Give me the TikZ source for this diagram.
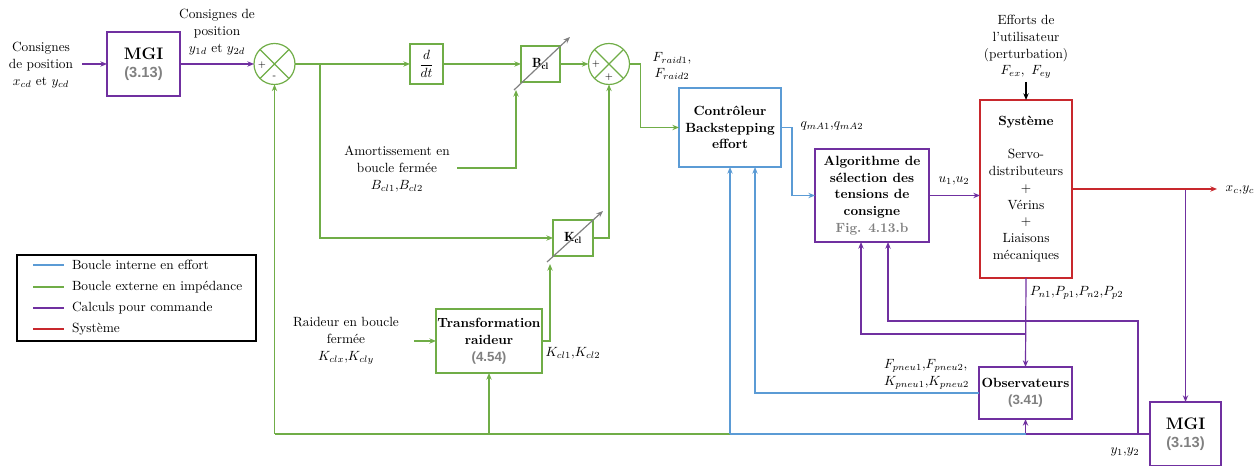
\documentclass[tikz,border=0pt]{standalone}
\usepackage{fontspec}
\newfontfamily\arialf{Liberation Sans}
\usetikzlibrary{arrows.meta}
\definecolor{cgreen}{RGB}{112,173,71}
\definecolor{cblue}{RGB}{91,155,213}
\definecolor{cpurple}{RGB}{112,48,160}
\definecolor{cred}{RGB}{200,40,45}
\definecolor{cgray}{RGB}{128,128,128}
\def\upx{0.75pt}
\newcommand{\grn}[1]{{\arialf\bfseries\color{cgray}#1}}
\newcommand{\mgitxt}{{\fontsize{12.5}{14}\selectfont\textbf{MGI}}\\[1pt]{\fontsize{11}{13}\selectfont\grn{(3.13)}}}
\begin{document}
\begin{tikzpicture}[x=0.75pt,y=-0.75pt,
  font=\fontsize{10}{12.6}\selectfont,
  every node/.style={inner sep=0pt,outer sep=0pt},
  bx/.style 2 args={minimum width=#1*\upx,minimum height=#2*\upx},
  blk/.style={draw,line width=1pt,align=center},
  sumc/.style={circle,draw=cgreen,line width=0.9pt,minimum size=41*\upx},
  lin/.style={line width=0.9pt},
  arr/.style={line width=0.9pt,-{Stealth[length=5pt,width=4pt]}},
  sgn/.style={font=\fontsize{7}{8}\selectfont},
  lbl/.style={align=center},
  gar/.style={draw=cgray,line width=0.9pt,-{Stealth[length=5pt,width=4pt]}}]
\useasboundingbox (0,0) rectangle (1258,466);

% ---- blocks ----
\node[blk,draw=cpurple,bx={73}{64}] (mgi1) at (143.5,64) {\mgitxt};
\node[sumc] (s1) at (274.5,64) {};
\node[blk,draw=cgreen,bx={33}{40}] (ddt) at (426.5,64) {$\displaystyle\frac{d}{dt}$};
\node[blk,draw=cgreen,bx={39}{36}] (bcl) at (540.5,64) {$\mathbf{B_{cl}}$};
\node[sumc] (s2) at (609,64) {};
\node[blk,draw=cgreen,bx={40}{36}] (kcl) at (573,238) {$\mathbf{K_{cl}}$};
\node[blk,draw=cgreen,bx={106}{64}] (trans) at (489,341) {\textbf{Transformation}\\\textbf{raideur}\\\grn{(4.54)}};
\node[blk,draw=cblue,bx={102}{79}] (ctrl) at (730,127.5) {\textbf{Contrôleur}\\\textbf{Backstepping}\\\textbf{effort}};
\node[blk,draw=cpurple,bx={114}{93}] (algo) at (872,195.5) {\textbf{Algorithme de}\\\textbf{sélection des}\\\textbf{tensions de}\\\textbf{consigne}\\{\bfseries\color{cgray}Fig. 4.13.b}};
\node[blk,draw=cred,bx={92}{178}] (sys) at (1026,189) {\textbf{Système}\\[12.6pt]Servo-\\distributeurs\\$+$\\Vérins\\$+$\\Liaisons\\mécaniques};
\node[blk,draw=cpurple,bx={93}{52}] (obs) at (1025.5,393) {\textbf{Observateurs}\\\grn{(3.41)}};
\node[blk,draw=cpurple,bx={71}{64}] (mgi2) at (1185.5,434) {\mgitxt};

% sum crosses and signs
\draw[cgreen,lin] (s1.north west)--(s1.south east) (s1.north east)--(s1.south west);
\draw[cgreen,lin] (s2.north west)--(s2.south east) (s2.north east)--(s2.south west);
\node[sgn] (s1p) at (262,65) {+};
\node[sgn] (s1m) at (274.5,77) {-};
\node[sgn] (s2p) at (596,64) {+};
\node[sgn] (s2q) at (609,77) {+};

% variable gain arrows
\coordinate (bd1) at (514,90); \coordinate (bd2) at (570,37);
\draw[gar] (bd1)--(bd2);
\coordinate (kd1) at (547,262); \coordinate (kd2) at (603,211);
\draw[gar] (kd1)--(kd2);

% ---- labels ----
\node[lbl] (lin) at (41,65) {Consignes\\de position\\$x_{cd}$ et $y_{cd}$};
\node[lbl] (lcons) at (217,32) {Consignes de\\position\\$y_{1d}$ et $y_{2d}$};
\node[lbl] (lamort) at (397,169) {Amortissement en\\boucle fermée\\$B_{cl1}{,}B_{cl2}$};
\node[lbl] (lraid) at (346,341) {Raideur en boucle\\fermée\\$K_{clx}{,}K_{cly}$};
\node (lkcl) at (573,353) {$K_{cl1}{,}K_{cl2}$};
\node[lbl] (lfraid) at (672,66) {$F_{raid1}$,\\$F_{raid2}$};
\node (lq) at (832,126) {$q_{mA1}{,}q_{mA2}$};
\node (lu) at (954,181) {$u_1{,}u_2$};
\node[lbl] (leff) at (1026,47) {Efforts de\\l'utilisateur\\(perturbation)\\$F_{ex},\ F_{ey}$};
\node (lxc) at (1240,190) {$x_c{,}y_c$};
\node[anchor=west] (lP) at (1030,293) {$P_{n1}{,}P_{p1}{,}P_{n2}{,}P_{p2}$};
\node[anchor=west,align=left] (lF) at (884,374) {$F_{pneu1}{,}F_{pneu2}{,}$\\$K_{pneu1}{,}K_{pneu2}$};
\node (ly) at (1125,452) {$y_1{,}y_2$};

% ---- coordinates ----
\coordinate (inS) at (82,64);
\coordinate (b1) at (320,64);
\coordinate (amS) at (457,168);
\coordinate (bclin) at (516,90);
\coordinate (kclin) at (550,264);
\coordinate (raS) at (414,341);
\coordinate (fbL) at (274.5,434);
\coordinate (fbT) at (489,434);
\coordinate (fbC) at (730,434);
\coordinate (fbO) at (1025.5,434);
\coordinate (fbY) at (1138,434);
\coordinate (yup) at (1138,321);
\coordinate (aIn2) at (888,242);
\coordinate (aIn1) at (861,242);
\coordinate (pB) at (1026,334);
\coordinate (cIn2) at (755,167);
\coordinate (effS) at (1026,82);
\coordinate (xcE) at (1217,189);
\coordinate (mgB) at (1185.5,189);

% ---- purple ----
\draw[arr,cpurple] (inS) -- (mgi1.west);
\draw[arr,cpurple] (mgi1.east) -- (s1.west);
\draw[arr,cpurple] (algo.east) -- (algo.east -| sys.west);
\draw[arr,cpurple] (sys.south) -- (obs.north);
\draw[arr,cpurple] (pB) -| (aIn1);
\draw[lin,cpurple] (mgi2.west) -- (fbO);
\draw[arr,cpurple] (fbO) -- (obs.south);
\draw[arr,cpurple] (fbY) -- (yup) -| (aIn2);
\draw[arr,cpurple] (mgB) -- (mgi2.north);

% ---- green ----
\draw[arr,cgreen] (s1.east) -- (ddt.west);
\draw[arr,cgreen] (ddt.east) -- (bcl.west);
\draw[arr,cgreen] (bcl.east) -- (s2.west);
\draw[arr,cgreen] (b1) |- (kcl.west);
\draw[arr,cgreen] (amS) -| (bclin);
\draw[arr,cgreen] (kcl.east) -| (s2.south);
\draw[arr,cgreen] (trans.east) -| (kclin);
\draw[arr,cgreen] (raS) -- (trans.west);
\draw[arr,cgreen] (s2.east) -- ++(11,0) |- (ctrl.west);
\draw[lin,cgreen] (fbC) -- (fbL);
\draw[arr,cgreen] (fbL) -- (s1.south);
\draw[arr,cgreen] (fbT) -- (trans.south);

% ---- blue ----
\draw[arr,cblue] (ctrl.east) -- ++(11,0) |- (algo.west);
\draw[lin,cblue] (fbO) -- (fbC);
\draw[arr,cblue] (fbC) -- (ctrl.south);
\draw[arr,cblue] (obs.west) -| (cIn2);

% ---- red / black ----
\draw[arr,cred] (sys.east) -- (xcE);
\draw[arr,black] (effS) -- (sys.north);

% ---- legend ----
\node[draw,line width=1pt,bx={239}{86}] (leg) at (136.5,298) {};
\foreach \yy/\cc/\txt [count=\i] in {265/cblue/Boucle interne en effort,287/cgreen/Boucle externe en impédance,308/cpurple/Calculs pour commande,329/cred/Système}{
  \coordinate (la\i) at (33,\yy); \coordinate (lb\i) at (64,\yy);
  \draw[lin,\cc] (la\i) -- (lb\i);
  \node[anchor=west] (lt\i) at (72,\yy) {\txt};
}
\end{tikzpicture}
\end{document}
